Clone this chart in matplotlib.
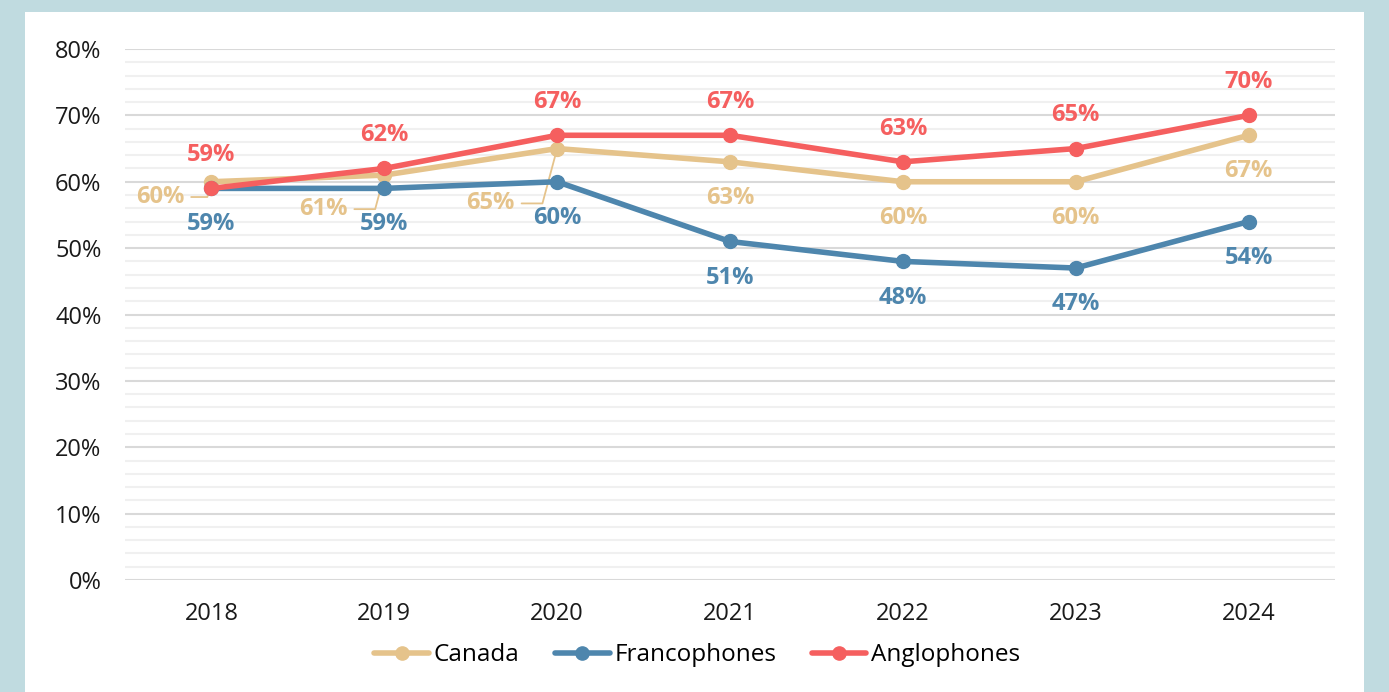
import matplotlib.pyplot as plt
from matplotlib.ticker import MultipleLocator, PercentFormatter

plt.rcParams['font.family'] = ['Open Sans', 'DejaVu Sans']

years = ['2018', '2019', '2020', '2021', '2022', '2023', '2024']
canada = [60, 61, 65, 63, 60, 60, 67]
francophones = [59, 59, 60, 51, 48, 47, 54]
anglophones = [59, 62, 67, 67, 63, 65, 70]

c_canada = '#e5c38b'
c_franco = '#4e86ad'
c_anglo = '#f55f5f'

fig = plt.figure(figsize=(13.89, 6.92), dpi=100)
fig.patch.set_facecolor('#c0dbe0')
# white card on the blue background
fig.add_artist(plt.Rectangle((25 / 1389, 0), 1339 / 1389, 1 - 12 / 692,
                             transform=fig.transFigure, facecolor='white',
                             edgecolor='none', zorder=0))

ax = fig.add_axes([125 / 1389, 1 - 580 / 692, 1210 / 1389, 531 / 692])
ax.set_facecolor('none')

x = range(len(years))
style = dict(linewidth=4, marker='o', markersize=10, solid_capstyle='round')
ax.plot(x, canada, color=c_canada, label='Canada', zorder=3, **style)
ax.plot(x, francophones, color=c_franco, label='Francophones', zorder=4, **style)
ax.plot(x, anglophones, color=c_anglo, label='Anglophones', zorder=5, **style)

lbl = dict(fontsize=17, fontweight='bold', ha='center', va='center',
           textcoords='offset points')
for i, v in enumerate(anglophones):
    ax.annotate(f'{v}%', (i, v), xytext=(0, 24), color=c_anglo, **lbl)
for i, v in enumerate(francophones):
    ax.annotate(f'{v}%', (i, v), xytext=(0, -26), color=c_franco, **lbl)

# Canada labels: the first three are pushed aside with a leader line
canada_offsets = [(-37, -11), (-44, -24.5), (-48, -39.5)]
for i, v in enumerate(canada):
    if i < len(canada_offsets):
        ax.annotate(f'{v}%', (i, v), xytext=canada_offsets[i], color=c_canada,
                    arrowprops=dict(arrowstyle='-', color=c_canada, lw=1.3,
                                    shrinkA=3, shrinkB=2,
                                    connectionstyle='angle,angleA=0,angleB=75,rad=0'),
                    **lbl)
    else:
        ax.annotate(f'{v}%', (i, v), xytext=(0, -26), color=c_canada, **lbl)

ax.set_xlim(-0.5, len(years) - 0.5)
ax.set_ylim(0, 80)
ax.set_xticks(list(x))
ax.set_xticklabels(years)
ax.yaxis.set_major_locator(MultipleLocator(10))
ax.yaxis.set_minor_locator(MultipleLocator(2))
ax.yaxis.set_major_formatter(PercentFormatter(decimals=0))
ax.grid(axis='y', which='major', color='#d9d9d9', linewidth=1.5, zorder=1)
ax.grid(axis='y', which='minor', color='#f0f0f0', linewidth=1.5, zorder=1)
ax.set_axisbelow(True)
ax.tick_params(axis='both', which='both', length=0, labelsize=17, colors='#1a1a1a')
ax.tick_params(axis='y', pad=17)
ax.tick_params(axis='x', pad=16)
for s in ax.spines.values():
    s.set_visible(False)

ax.legend(loc='center', bbox_to_anchor=(0.473, -0.142), ncol=3, frameon=False,
          fontsize=17.5, handlelength=2.25, handletextpad=0.2, columnspacing=1.45,
          markerscale=0.95)

fig.savefig('out.png', dpi=100, facecolor=fig.get_facecolor())
